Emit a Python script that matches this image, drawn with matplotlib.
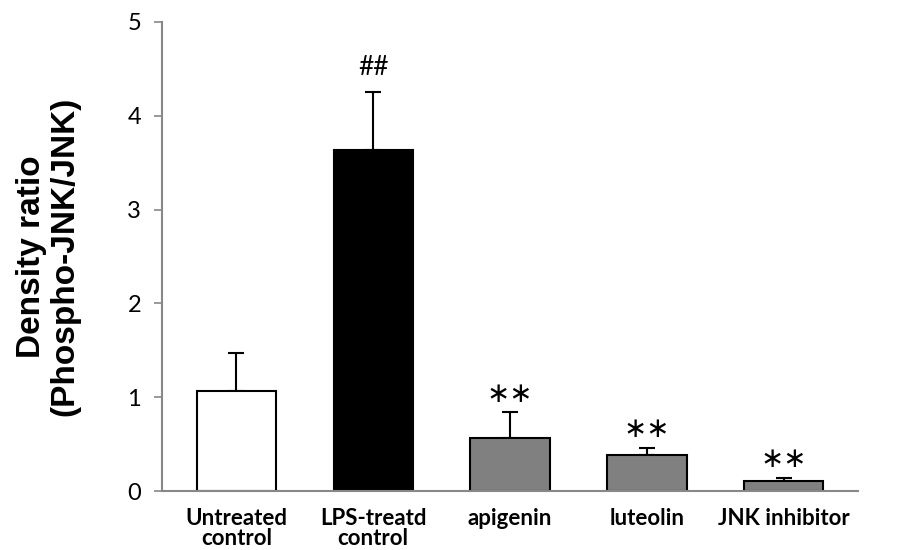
import matplotlib.pyplot as plt
import numpy as np

# Densitometry data
groups = ["Untreated\ncontrol", "LPS-treatd\ncontrol", "apigenin", "luteolin", "JNK inhibitor"]
ratio = [1.07, 3.64, 0.565, 0.385, 0.11]
sd = [0.40, 0.61, 0.275, 0.075, 0.035]
marks = ["", "##", "\u2217\u2217", "\u2217\u2217", "\u2217\u2217"]
colors = ["white", "black", "#808080", "#808080", "#808080"]

fig = plt.figure(figsize=(9.1, 5.5), dpi=100)
ax = fig.add_axes([0.178, 0.107, 0.765, 0.853])

x = np.arange(len(groups))
ax.bar(x, ratio, width=0.58, color=colors, edgecolor="black", linewidth=1.5, zorder=2)
ax.errorbar(x, ratio, yerr=[np.zeros(len(sd)), sd], fmt="none", ecolor="black",
            elinewidth=1.5, capsize=6, capthick=1.5, zorder=1)

# significance marks above the error bars
for xi, r, s, m in zip(x, ratio, sd, marks):
    if m == "##":
        ax.text(xi, r + s + 0.27, m, ha="center", va="center", fontsize=19, family="Lato")
    elif m:
        ax.text(xi, r + s + 0.2, m, ha="center", va="center", fontsize=20, family="DejaVu Sans")

ax.set_xlim(-0.544, 4.544)
ax.set_ylim(0, 5)
ax.set_yticks([0, 1, 2, 3, 4, 5])
ax.set_xticks(x)
ax.set_xticklabels(groups, family="Lato", fontweight="bold", fontsize=16, linespacing=0.95)
for lbl in ax.get_yticklabels():
    lbl.set_family("Lato")
    lbl.set_fontsize(17)

ax.tick_params(axis="x", length=0, pad=12)
ax.tick_params(axis="y", length=6, width=1.2, color="#888888", pad=9)
for side in ["top", "right"]:
    ax.spines[side].set_visible(False)
for side in ["left", "bottom"]:
    ax.spines[side].set_color("#888888")
    ax.spines[side].set_linewidth(1.5)

ax.set_ylabel("Density ratio\n(Phospho-JNK/JNK)", family=["Liberation Sans", "DejaVu Sans"],
              fontweight="bold", fontsize=24, labelpad=34, linespacing=1.1)

fig.savefig("out.png", dpi=100)
